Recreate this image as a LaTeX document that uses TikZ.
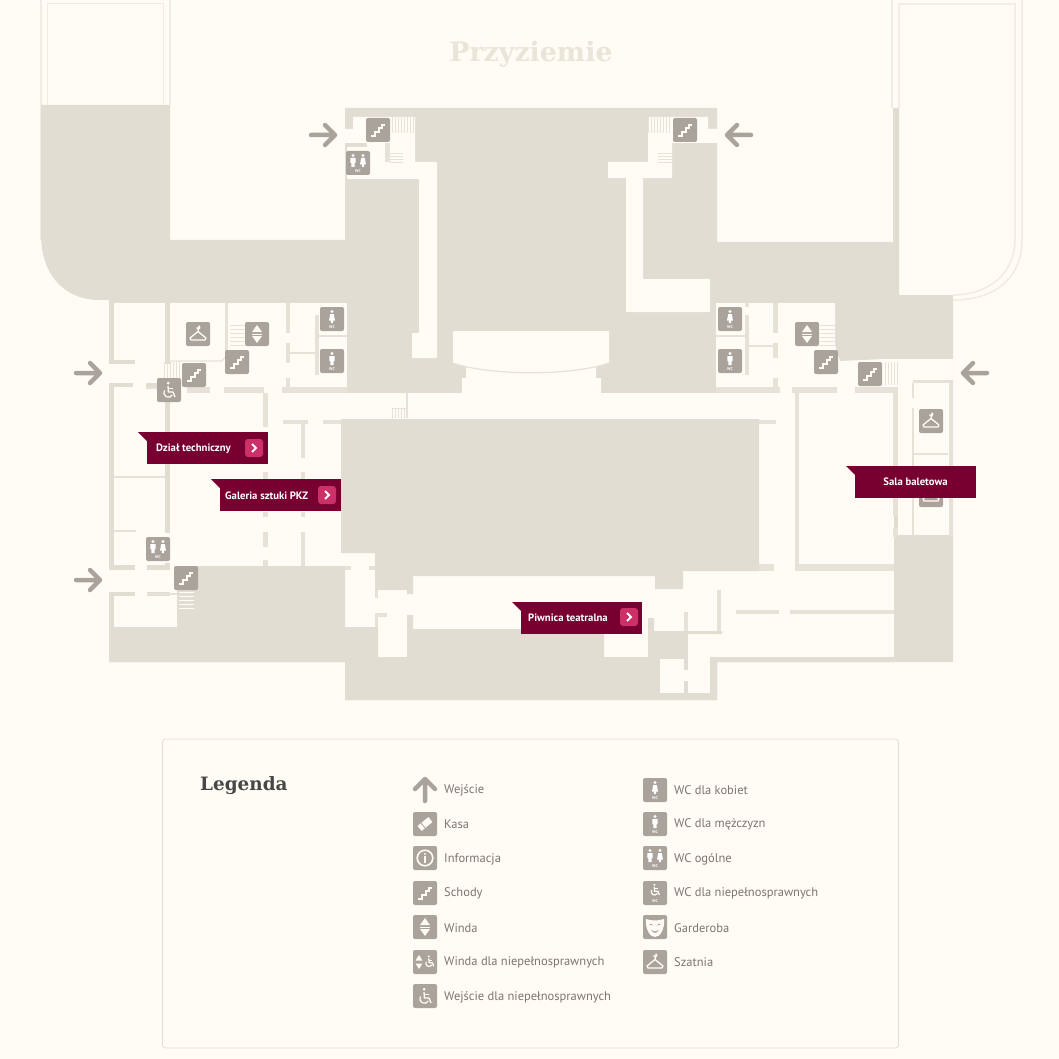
\documentclass[tikz,border=0pt]{standalone}
\usepackage{fontspec}
\setmainfont{PT Sans}
\newfontfamily\slabfont{DejaVu Serif}
\definecolor{papercol}{HTML}{FFFCF6}
\definecolor{floorcol}{HTML}{E2DDD3}
\definecolor{wallcol}{HTML}{E6E2D8}
\definecolor{linecol}{HTML}{F0ECE3}
\definecolor{titlecol}{HTML}{E9E5D9}
\definecolor{iconcol}{HTML}{A9A39B}
\definecolor{labelcol}{HTML}{770030}
\definecolor{btncol}{HTML}{CB3068}
\definecolor{textcol}{HTML}{7A7672}
\tikzset{
  floorpart/.style={fill=floorcol},
  wallpart/.style={fill=wallcol},
  roompart/.style={fill=papercol},
  outline/.style={draw=linecol,line width=1.5pt},
  thinwall/.style={draw=wallcol,line width=1.2pt},
  stairline/.style={draw=wallcol,line width=.7pt},
  placebox/.style={fill=labelcol,minimum width=121pt,minimum height=32pt,inner sep=0pt,anchor=north west},
  placetext/.style={text=white,font=\bfseries\fontsize{10.7}{12}\selectfont,anchor=west,inner sep=0pt},
  legendtext/.style={text=textcol,font=\fontsize{12.5}{14}\selectfont,anchor=west,inner sep=0pt},
  iconbase/.style={fill=iconcol,rounded corners=2pt},
  wctext/.style={text=white,font=\bfseries\fontsize{4}{4}\selectfont,inner sep=0pt},
  stairsicon/.pic={
    \path[iconbase] (-12,-12) rectangle (12,12);
    \draw[papercol,line width=1.6pt] (-7,6) -- (-3,6) -- (-3,2) -- (1,2) -- (1,-2) -- (4,-2) -- (4,-5) -- (7,-5);
  },
  lifticon/.pic={
    \path[iconbase] (-12,-12) rectangle (12,12);
    \fill[papercol] (-5,-2) -- (5,-2) -- (0,-9) -- cycle;
    \fill[papercol] (-5,2) -- (5,2) -- (0,9) -- cycle;
    \draw[papercol,line width=.6pt] (-5,0) -- (5,0);
  },
  hangericon/.pic={
    \path[iconbase] (-12,-12) rectangle (12,12);
    \draw[papercol,line width=1.3pt,line join=round] (-1.5,-6.5) arc[start angle=180,end angle=-60,radius=1.7] -- (0,-2.5) -- (-8,4) -- (-7,6) -- (7,6) -- (8,4) -- (0,-2.5);
  },
  womanicon/.pic={
    \path[iconbase] (-12,-12) rectangle (12,12);
    \fill[white] (0,-7.5) circle (1.6);
    \fill[white] (-1.8,-5) -- (1.8,-5) -- (3,1.5) -- (1.2,1.5) -- (1.2,4) -- (-1.2,4) -- (-1.2,1.5) -- (-3,1.5) -- cycle;
    \node[wctext] (wc) at (0,8) {WC};
  },
  manicon/.pic={
    \path[iconbase] (-12,-12) rectangle (12,12);
    \fill[white] (0,-7.5) circle (1.6);
    \fill[white] (-2.6,-5) -- (2.6,-5) -- (2.6,0) -- (1.6,0) -- (1.6,4) -- (-1.6,4) -- (-1.6,0) -- (-2.6,0) -- cycle;
    \node[wctext] (wc) at (0,8) {WC};
  },
  bothicon/.pic={
    \path[iconbase] (-12,-12) rectangle (12,12);
    \fill[white] (-5,-7.5) circle (1.6);
    \fill[white] (-7.6,-5) -- (-2.4,-5) -- (-2.4,0) -- (-3.4,0) -- (-3.4,4) -- (-6.6,4) -- (-6.6,0) -- (-7.6,0) -- cycle;
    \fill[white] (5,-7.5) circle (1.6);
    \fill[white] (3.2,-5) -- (6.8,-5) -- (8,1.5) -- (6.2,1.5) -- (6.2,4) -- (3.8,4) -- (3.8,1.5) -- (2,1.5) -- cycle;
    \node[wctext] (wc) at (0,8) {WC};
  },
  wheelglyph/.pic={
    \fill[papercol] (-.8,-7.8) circle (1.5);
    \draw[papercol,line width=1.3pt,line join=round] (-1,-5) -- (-.6,1) -- (4,1) -- (6,6);
    \draw[papercol,line width=1pt] (-.8,-2.2) -- (3.5,-2.2);
    \draw[papercol,line width=1.2pt] (-4.6,-.6) arc[start angle=210,end angle=30,radius=4.6];
  },
  wheelicon/.pic={
    \path[iconbase] (-12,-12) rectangle (12,12);
    \pic at (0,1) {wheelglyph};
  },
  wheelwcicon/.pic={
    \path[iconbase] (-12,-12) rectangle (12,12);
    \pic[scale=.72] at (0,-2.5) {wheelglyph};
    \node[wctext] (wc) at (0,8) {WC};
  },
  liftwheelicon/.pic={
    \path[iconbase] (-12,-12) rectangle (12,12);
    \fill[papercol] (-9.5,-1.5) -- (-2.5,-1.5) -- (-6,-7) -- cycle;
    \fill[papercol] (-9.5,1.5) -- (-2.5,1.5) -- (-6,7) -- cycle;
    \pic[scale=.72] at (4.5,0) {wheelglyph};
  },
  ticketicon/.pic={
    \path[iconbase] (-12,-12) rectangle (12,12);
    \fill[papercol,rotate=40] (-7,-3.2) rectangle (7,3.2);
    \draw[iconcol,line width=.8pt,rotate=40] (-2.5,-3.2) -- (-2.5,3.2);
  },
  infoicon/.pic={
    \path[iconbase] (-12,-12) rectangle (12,12);
    \draw[papercol,line width=1.6pt] (0,0) circle (7.8);
    \fill[papercol] (0,-4) circle (1.2);
    \fill[papercol] (-1.1,-1.6) rectangle (1.1,4.5);
  },
  maskicon/.pic={
    \path[iconbase] (-12,-12) rectangle (12,12);
    \fill[papercol] (-9,-8) .. controls (-3,-6) and (3,-6) .. (9,-8) .. controls (10,2) and (5,10) .. (0,10) .. controls (-5,10) and (-10,2) .. (-9,-8) -- cycle;
    \fill[iconcol] (-6,-2.5) .. controls (-4,-4) and (-2.5,-3) .. (-2,-1.5) .. controls (-3,-2.2) and (-5,-2.2) .. (-6,-2.5) -- cycle;
    \fill[iconcol] (6,-2.5) .. controls (4,-4) and (2.5,-3) .. (2,-1.5) .. controls (3,-2.2) and (5,-2.2) .. (6,-2.5) -- cycle;
    \fill[iconcol] (-4,2.5) .. controls (-2,5) and (2,5) .. (4,2.5) .. controls (2,7) and (-2,7) .. (-4,2.5) -- cycle;
  },
  entryarrow/.pic={
    \draw[iconcol,line width=4.5pt,line cap=round,line join=round] (-12,0) -- (12,0) (2,-10) -- (12,0) -- (2,10);
  },
}
\begin{document}
\begin{tikzpicture}[x=1pt,y=-1pt]
\useasboundingbox (0,0) rectangle (1059,1059);
\fill[papercol] (0,0) rectangle (1059,1059);

% outlines of the wings
\draw[outline] (41,0) -- (41,240) (170,0) -- (170,105);
\draw[outline,line width=1pt] (47,105) -- (47,4) -- (163,4) -- (163,105);
\draw[outline] (892,0) -- (892,108);
\draw[outline] (1022,0) -- (1022,240) .. controls (1022,278) and (995,300) .. (953,300);
\draw[outline] (899,108) -- (899,4) -- (1015,4) -- (1015,240) .. controls (1015,272) and (990,295) .. (953,295);

% floor silhouette
\fill[floorpart] (41,105) -- (170,105) -- (170,240) -- (345,240) -- (345,108) -- (717,108) -- (717,242) -- (893,242) -- (893,108) -- (899,108)
  -- (899,295) -- (953,295) -- (953,662) -- (717,662) -- (717,700) -- (345,700) -- (345,662) -- (109,662) -- (109,300) -- (100,300)
  .. controls (62,300) and (41,272) .. (41,235) -- cycle;

% rooms in the upper block
\fill[roompart] (345,129) -- (353,129) -- (353,117) -- (415,117) -- (415,162) -- (437,162) -- (437,358) -- (412,358) -- (412,333) -- (419,333)
  -- (419,179) -- (347,179) -- (347,147) -- (367,147) -- (367,143) -- (345,143) -- cycle;
\fill[roompart] (717,129) -- (708,129) -- (708,117) -- (648,117) -- (648,162) -- (608,162) -- (608,178) -- (626,178) -- (626,312) -- (710,312)
  -- (710,279) -- (643,279) -- (643,178) -- (672,178) -- (672,143) -- (717,143) -- cycle;
\fill[wallpart] (385,143) rectangle (390,162);
\fill[roompart] (453,331) -- (609,331) -- (609,363) -- (596,367) -- (596,378) -- (601,378) -- (601,396) -- (462,396) -- (462,378) -- (466,378) -- (466,367) -- (453,363) -- cycle;
\draw[thinwall] (453,363) .. controls (490,376) and (572,376) .. (609,363);

% rooms west
\fill[roompart] (114,303) rectangle (165,360);
\fill[roompart] (135,358) rectangle (165,366);
\fill[roompart] (109,364) rectangle (170,383);
\fill[roompart] (133,381) rectangle (146,389);
\fill[roompart] (114,387) rectangle (165,565);
\fill[roompart] (135,563) rectangle (147,572);
\fill[roompart] (109,570) rectangle (178,592);
\fill[roompart] (135,590) rectangle (147,597);
\fill[roompart] (114,596) rectangle (177,627);
\fill[roompart] (165,533) rectangle (170,563);
\fill[roompart] (170,303) rectangle (347,393);

% rooms east
\fill[roompart] (716,303) -- (835,303) -- (835,345) -- (840,361) -- (885,359) -- (953,359) -- (953,365) -- (949,365) -- (949,393) -- (716,393) -- cycle;
\fill[roompart] (949,365) rectangle (953,380);
\fill[roompart] (898,390) rectangle (949,535);

% middle floor and the dark blocks on it
\fill[roompart] (170,393) rectangle (894,657);
\fill[roompart] (433,394) rectangle (716,419);
\fill[floorpart] (341,419) -- (759,419) -- (759,571) -- (683,571) -- (683,589) -- (655,589) -- (655,576) -- (413,576) -- (413,594) -- (407,594) -- (407,590) -- (375,590) -- (375,553) -- (341,553) -- cycle;
\fill[floorpart] (109,627) -- (177,627) -- (177,596) -- (178,566) -- (345,566) -- (345,627) -- (378,627) -- (378,657) -- (407,657) -- (407,615) -- (413,615) -- (413,629)
  -- (604,629) -- (604,675) -- (648,675) -- (648,618) -- (654,618) -- (654,631) -- (722,631) -- (722,634) -- (688,634) -- (688,657) -- (894,657)
  -- (894,662) -- (717,662) -- (717,700) -- (345,700) -- (345,662) -- (109,662) -- cycle;
\fill[roompart] (660,659) rectangle (684,693);
\fill[roompart] (684,670) rectangle (688,681);
\fill[roompart] (688,634) rectangle (710,693);

% walls
\foreach \xa/\ya/\xb/\yb in {187/387/210/393,224/387/264/393,282/387/347/393,146/387/165/389,
  225/303/228/358,286/303/290/333,286/343/290/363,286/378/290/387,315/315/319/375,
  263/393/268/427,263/472/268/480,263/512/268/517,263/532/268/547,263/560/268/566,
  301/420/305/458,301/472/305/480,301/512/305/517,301/532/305/566,283/420/308/424,323/420/341/424,
  345/566/351/570,369/566/375/570,375/590/378/598,375/613/378/627,
  716/387/780/393,792/387/837/393,855/387/898/393,773/303/778/333,773/343/778/358,773/378/778/387,745/315/749/375,745/303/749/307,
  795/392/799/571,795/564/894/571,759/420/776/424,759/564/774/571,893/392/898/516,893/528/898/537,913/380/953/383,949/380/953/537,
  736/610/779/614,790/610/894/614,717/590/721/631,684/612/688/631,378/613/387/617}
  \fill[wallpart] (\xa,\ya) rectangle (\xb,\yb);

% thin walls
\draw[thinwall] (114,477) -- (165,477) (114,531) -- (136,531) (147,594) -- (177,594);
\draw[thinwall] (290,353) -- (315,353) (319,336) -- (347,336);
\draw[thinwall] (716,336) -- (745,336) (749,346) -- (773,346);
\draw[thinwall] (913,383) -- (913,398) (913,408) -- (913,535) (913,454) -- (948,454);
\draw[thinwall] (170,361) -- (222,361) -- (228,354);
\draw[thinwall] (407,393) -- (407,418);

% stairs
\foreach \x in {392,395,...,414} \draw[stairline] (\x,117) -- (\x,133);
\foreach \x in {648,651,...,670} \draw[stairline] (\x,117) -- (\x,133);
\foreach \y in {153,156,...,162} {\draw[stairline] (390,\y) -- (403,\y); \draw[stairline] (658,\y) -- (672,\y);}
\foreach \y in {325,329,...,345} {\draw[stairline] (230,\y) -- (245,\y); \draw[stairline] (820,\y) -- (835,\y);}
\foreach \x in {164,167,...,181} \draw[stairline] (\x,362) -- (\x,380);
\foreach \x in {885,888,...,898} \draw[stairline] (\x,362) -- (\x,385);
\foreach \y in {592,596,...,608} \draw[stairline,draw=papercol] (179,\y) -- (194,\y);
\foreach \x in {392,395,...,407} \draw[stairline] (\x,408) -- (\x,418);
\draw[stairline] (392,408) -- (407,408);

% entrances
\pic at (323,135) {entryarrow};
\pic[rotate=180] at (739,135) {entryarrow};
\pic at (88,373) {entryarrow};
\pic[rotate=180] at (975,373) {entryarrow};
\pic at (88,580) {entryarrow};

% icons on the plan
\pic at (378,130) {stairsicon};
\pic at (685,130) {stairsicon};
\pic at (194,375) {stairsicon};
\pic at (237,362) {stairsicon};
\pic at (826,362) {stairsicon};
\pic at (870,374) {stairsicon};
\pic at (186,578) {stairsicon};
\pic at (358,163) {bothicon};
\pic at (158,549) {bothicon};
\pic at (198,334) {hangericon};
\pic at (931,421) {hangericon};
\pic at (931,495) {hangericon};
\pic at (257,334) {lifticon};
\pic at (807,334) {lifticon};
\pic at (332,319) {womanicon};
\pic at (730,319) {womanicon};
\pic at (332,361) {manicon};
\pic at (730,361) {manicon};
\pic at (169,390) {wheelicon};

\node[font=\slabfont\bfseries\fontsize{26.8}{30}\selectfont,text=titlecol,inner sep=0pt] (title) at (531,54) {Przyziemie};

% place labels
\node[placebox] (dzial) at (147,432) {};
\fill[labelcol] (dzial.north west) -- ++(-9,0) -- ++(9,9) -- cycle;
\node[placetext] (dzialtext) at (156,448.5) {Dział techniczny};
\node[placebox] (galeria) at (220,479) {};
\fill[labelcol] (galeria.north west) -- ++(-9,0) -- ++(9,9) -- cycle;
\node[placetext] (galeriatext) at (225,495.5) {Galeria sztuki PKZ};
\node[placebox] (piwnica) at (521,602) {};
\fill[labelcol] (piwnica.north west) -- ++(-9,0) -- ++(9,9) -- cycle;
\node[placetext] (piwnicatext) at (528,618) {Piwnica teatralna};
\node[placebox] (sala) at (855,466) {};
\fill[labelcol] (sala.north west) -- ++(-9,0) -- ++(9,9) -- cycle;
\node[placetext,anchor=center] (salatext) at (915.5,481.5) {Sala baletowa};
\foreach \xb/\yb in {254/448,327/495,629/617} {
  \fill[btncol,rounded corners=3pt] (\xb-9,\yb-9) rectangle (\xb+9,\yb+9);
  \draw[white,line width=2pt] (\xb-2,\yb-4) -- (\xb+2,\yb) -- (\xb-2,\yb+4);
}

% legend panel
\draw[draw=floorcol,fill=papercol,line width=.8pt,rounded corners=3pt] (162.5,739) rectangle (898.5,1048);
\node[font=\slabfont\bfseries\fontsize{18.4}{22}\selectfont,text=black!72,anchor=west,inner sep=0pt] (legenda) at (200,786) {Legenda};
\draw[iconcol,line width=4.5pt,line cap=round,line join=round] (425,801) -- (425,779) (415,789) -- (425,779) -- (435,789);
\pic at (425,824) {ticketicon};
\pic at (425,858) {infoicon};
\pic at (425,893) {stairsicon};
\pic at (425,927) {lifticon};
\pic at (425,962) {liftwheelicon};
\pic at (425,996) {wheelicon};
\pic at (655,790) {womanicon};
\pic at (655,824) {manicon};
\pic at (655,858) {bothicon};
\pic at (655,893) {wheelwcicon};
\pic at (655,927) {maskicon};
\pic at (655,962) {hangericon};
\node[legendtext] (l1) at (444,790) {Wejście};
\node[legendtext] (l2) at (444,824.5) {Kasa};
\node[legendtext] (l3) at (444,859) {Informacja};
\node[legendtext] (l4) at (444,893.5) {Schody};
\node[legendtext] (l5) at (444,928) {Winda};
\node[legendtext] (l6) at (444,962.5) {Winda dla niepełnosprawnych};
\node[legendtext] (l7) at (444,997) {Wejście dla niepełnosprawnych};
\node[legendtext] (r1) at (674,790) {WC dla kobiet};
\node[legendtext] (r2) at (674,824.5) {WC dla mężczyzn};
\node[legendtext] (r3) at (674,859) {WC ogólne};
\node[legendtext] (r4) at (674,893.5) {WC dla niepełnosprawnych};
\node[legendtext] (r5) at (674,928) {Garderoba};
\node[legendtext] (r6) at (674,962.5) {Szatnia};
\end{tikzpicture}
\end{document}
